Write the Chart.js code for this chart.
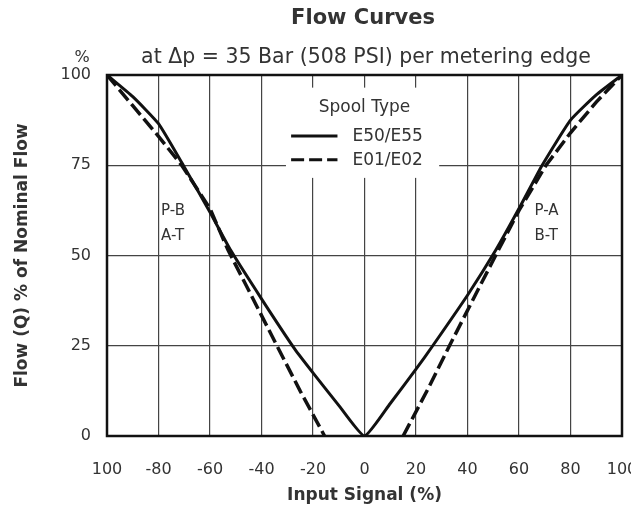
<!DOCTYPE html>
<html>
<head>
<meta charset="utf-8">
<script src="https://cdn.jsdelivr.net/npm/chart.js@4.4.0/dist/chart.umd.min.js"></script>
<style>
  html, body { margin: 0; padding: 0; background: #fff; }
  #wrap { position: relative; width: 631px; height: 509px; }
</style>
</head>
<body>
<div id="wrap"><canvas id="flow"></canvas></div>
<script>
const FONT = "'DejaVu Sans', 'Liberation Sans', Arial, sans-serif";
const INK = '#111';
const TXT = '#333';

// x axis: input signal (%), y axis: flow (% of nominal)
const xTickValues = [-100, -80, -60, -40, -20, 0, 20, 40, 60, 80, 100];
const yTickValues = [0, 25, 50, 75, 100];

// E50/E55 spool (solid)
const e50x = [-100, -90, -80, -70, -60, -52, -40, -27, -20, -10, 0, 10, 20, 26.5, 40, 51, 60, 69, 80, 90, 100];
const e50y = [100, 94, 86.5, 74.5, 62, 51.5, 38, 24, 17.5, 8.5, 0, 9, 18.5, 25, 39, 51.5, 63, 75, 87.5, 94.5, 100];

// E01/E02 spool (dashed) - no flow in the dead band around 0
const e01x = [-100, -90, -80, -71, -60, -53, -44, -34, -25, -15.5, 0, 15, 25, 33, 43, 52, 60, 70.5, 80, 90, 100];
const e01y = [100, 91.5, 83, 75, 63, 51.5, 39, 25, 12.5, 0, null, 0, 13.5, 25, 39, 51.5, 62.5, 75, 84, 92.5, 100];

const pts = (xs, ys) => xs.map((x, i) => ({ x: x, y: ys[i] }));

const extras = {
  id: 'extras',
  beforeDatasetsDraw(chart) {
    const { ctx, scales: { x, y } } = chart;
    ctx.save();
    // legend box (white, cuts the grid)
    const bx0 = x.getPixelForValue(-30.5), bx1 = x.getPixelForValue(29);
    const by0 = y.getPixelForValue(96.5), by1 = y.getPixelForValue(71.5);
    ctx.fillStyle = '#fff';
    ctx.fillRect(bx0, by0, bx1 - bx0, by1 - by0);

    ctx.fillStyle = TXT;
    ctx.font = '17px ' + FONT;
    ctx.textBaseline = 'middle';
    ctx.textAlign = 'center';
    ctx.fillText('Spool Type', x.getPixelForValue(0), y.getPixelForValue(91));

    ctx.textAlign = 'left';
    ctx.fillText('E50/E55', x.getPixelForValue(-4.7), y.getPixelForValue(83));
    ctx.fillText('E01/E02', x.getPixelForValue(-4.7), y.getPixelForValue(76.4));

    ctx.strokeStyle = INK;
    ctx.lineWidth = 3;
    ctx.beginPath();
    ctx.moveTo(x.getPixelForValue(-28.5), y.getPixelForValue(83.1));
    ctx.lineTo(x.getPixelForValue(-10.5), y.getPixelForValue(83.1));
    ctx.stroke();
    ctx.setLineDash([13, 5]);
    ctx.beginPath();
    ctx.moveTo(x.getPixelForValue(-28.5), y.getPixelForValue(76.5));
    ctx.lineTo(x.getPixelForValue(-10.5), y.getPixelForValue(76.5));
    ctx.stroke();
    ctx.setLineDash([]);

    // port labels
    ctx.font = '15px ' + FONT;
    ctx.textAlign = 'left';
    ctx.fillText('P-B', x.getPixelForValue(-79), y.getPixelForValue(62.3));
    ctx.fillText('A-T', x.getPixelForValue(-79), y.getPixelForValue(55.3));
    ctx.fillText('P-A', x.getPixelForValue(66), y.getPixelForValue(62.3));
    ctx.fillText('B-T', x.getPixelForValue(66), y.getPixelForValue(55.3));
    ctx.restore();
  },
  afterDraw(chart) {
    const { ctx, chartArea: a } = chart;
    ctx.save();
    ctx.strokeStyle = INK;
    ctx.lineWidth = 2.5;
    ctx.strokeRect(a.left, a.top, a.right - a.left, a.bottom - a.top);

    ctx.fillStyle = TXT;
    ctx.textAlign = 'center';
    ctx.textBaseline = 'middle';
    ctx.font = 'bold 21px ' + FONT;
    ctx.fillText('Flow Curves', 363, 19);
    ctx.font = '20.5px ' + FONT;
    ctx.fillText('at \u0394p = 35 Bar (508 PSI) per metering edge', 366, 58);
    ctx.font = '16px ' + FONT;
    ctx.fillText('%', 82, 58);
    ctx.restore();
  }
};

new Chart(document.getElementById('flow'), {
  type: 'scatter',
  data: {
    datasets: [{
      label: 'E50/E55',
      data: pts(e50x, e50y),
      showLine: true,
      borderColor: INK,
      borderWidth: 3,
      pointRadius: 0,
      tension: 0.15
    }, {
      label: 'E01/E02',
      data: pts(e01x, e01y),
      showLine: true,
      spanGaps: false,
      borderColor: INK,
      borderWidth: 3.5,
      borderDash: [14, 5],
      pointRadius: 0,
      tension: 0
    }]
  },
  options: {
    responsive: true,
    maintainAspectRatio: false,
    animation: false,
    layout: { padding: { top: 75, right: 9, left: 0, bottom: 0 } },
    plugins: {
      legend: { display: false },
      tooltip: { enabled: false }
    },
    scales: {
      x: {
        type: 'linear',
        min: -100,
        max: 100,
        afterFit: (s) => { s.height = 73; s.paddingLeft = 0; s.paddingRight = 0; },
        afterBuildTicks: (s) => { s.ticks = xTickValues.map(v => ({ value: v })); },
        grid: { color: '#444', lineWidth: 1.2, drawTicks: false },
        border: { display: false },
        ticks: {
          padding: 24,
          autoSkip: false,
          color: TXT,
          font: { family: FONT, size: 16 },
          maxRotation: 0,
          callback: (v) => (v === -100 ? '100' : String(v))
        },
        title: {
          display: true,
          text: 'Input Signal (%)',
          color: TXT,
          font: { family: FONT, size: 17, weight: 'bold' },
          padding: { top: 0, bottom: 3 }
        }
      },
      y: {
        type: 'linear',
        min: 0,
        max: 100,
        afterFit: (s) => { s.width = 107; s.paddingTop = 0; s.paddingBottom = 0; },
        afterBuildTicks: (s) => { s.ticks = yTickValues.map(v => ({ value: v })); },
        grid: { color: '#444', lineWidth: 1.2, drawTicks: false },
        border: { display: false },
        ticks: {
          padding: 16,
          color: TXT,
          font: { family: FONT, size: 16 }
        },
        title: {
          display: true,
          text: 'Flow (Q) % of Nominal Flow',
          color: TXT,
          font: { family: FONT, size: 17, weight: 'bold' },
          padding: { top: 12, bottom: 0 }
        }
      }
    }
  },
  plugins: [extras]
});
</script>
</body>
</html>
